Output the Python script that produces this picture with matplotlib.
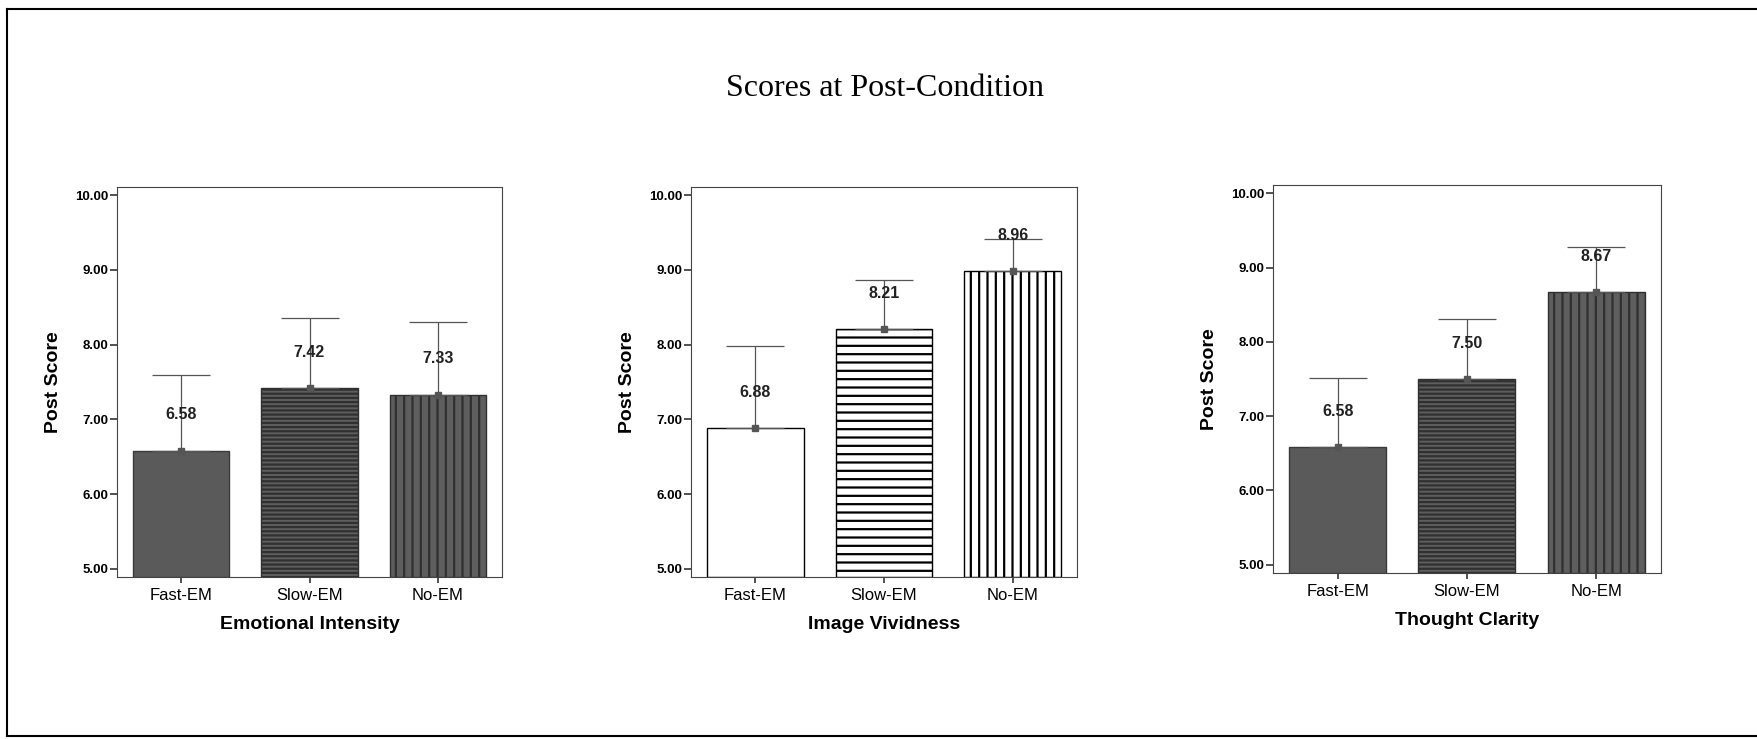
import matplotlib
matplotlib.use("Agg")
import matplotlib.pyplot as plt
from matplotlib.lines import Line2D
import numpy as np

categories = ["Fast-EM", "Slow-EM", "No-EM"]
panel_titles = ["Emotional Intensity", "Image Vividness", "Thought Clarity"]
means_emotional = [6.58, 7.42, 7.33]
upper_emotional = [7.60, 8.35, 8.30]
means_vividness = [6.88, 8.21, 8.98]
labels_vividness = ["6.88", "8.21", "8.96"]
upper_vividness = [7.98, 8.87, 9.42]
means_clarity = [6.58, 7.50, 8.67]
upper_clarity = [7.52, 8.31, 9.27]
yticks = [5, 6, 7, 8, 9, 10]

panels = [
    (means_emotional, upper_emotional, [f"{v:.2f}" for v in means_emotional]),
    (means_vividness, upper_vividness, labels_vividness),
    (means_clarity, upper_clarity, [f"{v:.2f}" for v in means_clarity]),
]

W, H = 1757, 739
fig = plt.figure(figsize=(W / 100, H / 100), dpi=100)
fig.patch.set_facecolor("white")

sans = ["Liberation Sans", "DejaVu Sans"]
serif = ["Liberation Serif", "DejaVu Serif"]

boxes = [(117, 187, 502, 577), (691, 187, 1077, 577), (1273, 185, 1661, 573)]

dark_styles = [
    dict(face="#5a5a5a", edge="#3a3a3a", hatch=None),
    dict(face="#5e5e5e", edge="#303030", hatch="----"),
    dict(face="#5e5e5e", edge="#303030", hatch="||"),
]
light_styles = [
    dict(face="white", edge="black", hatch=None),
    dict(face="white", edge="black", hatch="--"),
    dict(face="white", edge="black", hatch="||"),
]
styles = [dark_styles, light_styles, dark_styles]

plt.rcParams["hatch.linewidth"] = 1.6

x = np.arange(len(categories))
for i, (means, upper, labs) in enumerate(panels):
    x0, y0, x1, y1 = boxes[i]
    ax = fig.add_axes([x0 / W, 1 - y1 / H, (x1 - x0) / W, (y1 - y0) / H])
    for j in range(len(categories)):
        st = styles[i][j]
        ax.bar(x[j], means[j] - 4.89, bottom=4.89, width=0.75,
               color=st["face"], edgecolor=st["edge"], hatch=st["hatch"],
               linewidth=1.0, zorder=2)
    err = [np.zeros(len(means)), np.array(upper) - np.array(means)]
    ax.errorbar(x, means, yerr=err, fmt="s", color="#555555", ms=4,
                ecolor="#555555", elinewidth=0.9, capsize=21, capthick=0.9,
                zorder=3)
    for j in range(len(categories)):
        ax.text(x[j], means[j] + 0.48, labs[j], ha="center", va="center",
                fontsize=11.5, fontweight="bold", family=sans, color="#222222",
                zorder=4)
    ax.set_xlim(-0.5, 2.5)
    ax.set_ylim(4.89, 10.11)
    ax.set_yticks(yticks)
    ax.set_yticklabels([f"{v:.2f}" for v in yticks], fontsize=9.5,
                       fontweight="bold", family=sans)
    ax.set_xticks(x)
    ax.set_xticklabels(categories, fontsize=12, family=sans)
    ax.tick_params(axis="y", length=5, width=1.2, pad=1, color="#333333")
    ax.tick_params(axis="x", length=4, width=1.2, pad=4, color="#333333")
    ax.set_ylabel("Post Score", fontsize=14, fontweight="bold", family=sans,
                  labelpad=10)
    ax.set_xlabel(panel_titles[i], fontsize=14, fontweight="bold",
                  family=sans, labelpad=9)
    for sp in ax.spines.values():
        sp.set_linewidth(0.8)
        sp.set_color("#444444")

fig.text(885 / W, 1 - 88 / H, "Scores at Post-Condition", ha="center",
         va="center", fontsize=23, family=serif)

# page frame
lx, by, ty = 7 / W, 1 - 736 / H, 1 - 9 / H
fig.add_artist(Line2D([lx, lx], [by, ty], transform=fig.transFigure,
                      color="black", lw=1.5))
fig.add_artist(Line2D([lx, 1.0], [ty, ty], transform=fig.transFigure,
                      color="black", lw=1.5))
fig.add_artist(Line2D([lx, 1.0], [by, by], transform=fig.transFigure,
                      color="black", lw=1.5))

fig.savefig("out.png", dpi=100)
